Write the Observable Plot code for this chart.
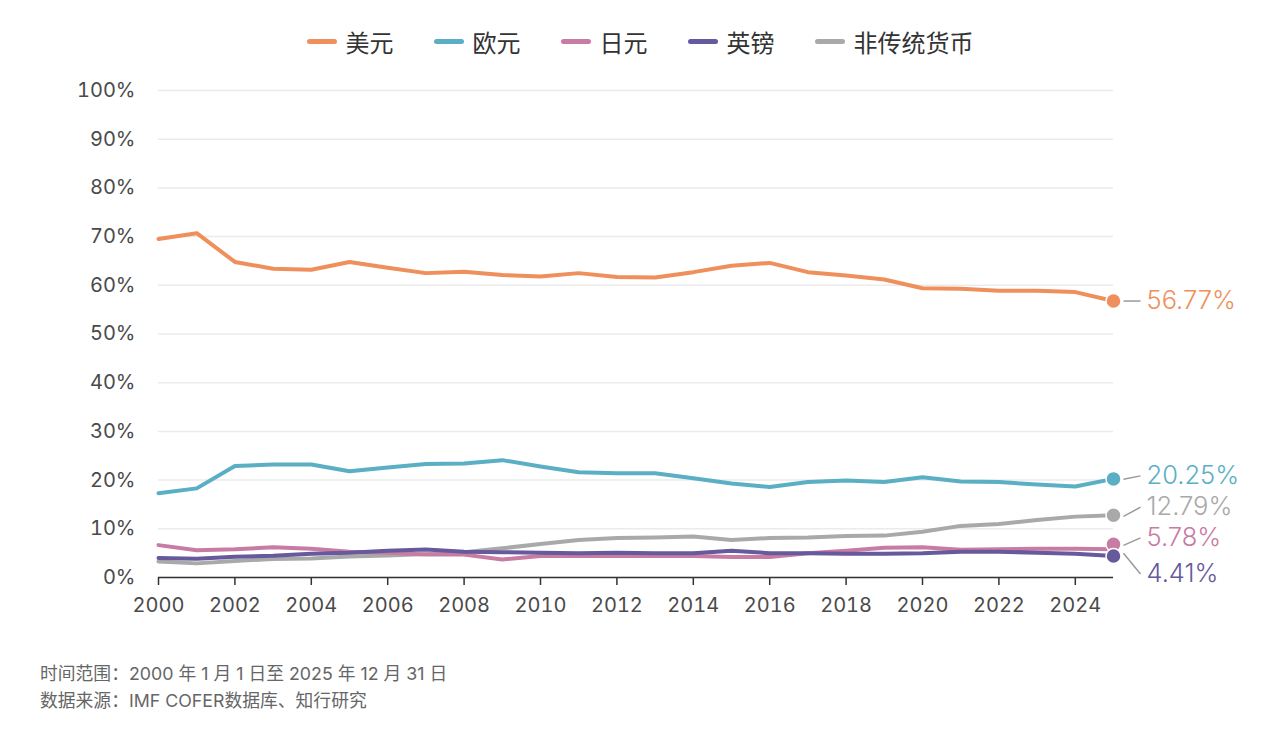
<!DOCTYPE html>
<html><head><meta charset="utf-8">
<script src="https://cdn.jsdelivr.net/npm/d3@7"></script>
<script src="https://cdn.jsdelivr.net/npm/@observablehq/plot@0.6"></script>
<style>
  html,body{margin:0;padding:0;background:#fff;}
  body{width:1280px;height:730px;overflow:hidden;font-family:Inter,"Noto Sans CJK SC",sans-serif;}
  #legend{height:70px;display:flex;justify-content:center;align-items:center;gap:40px;padding-top:12px;box-sizing:border-box;font-family:"Noto Sans CJK SC",sans-serif;font-size:24px;color:#333;}
  .item{display:flex;align-items:center;gap:9px;}
  .sw{width:30px;height:5px;border-radius:3px;}
  #chart svg{display:block;}
  #chart svg text{font-family:Inter,"Noto Sans CJK SC",sans-serif;}
  #caption{padding-left:40px;margin-top:33px;font-size:17.8px;color:#666;line-height:27px;font-family:Inter,"Noto Sans CJK SC",sans-serif;}
</style></head>
<body>
<div id="legend"></div>
<div id="chart"></div>
<div id="caption"><div>时间范围：2000 年 1 月 1 日至 2025 年 12 月 31 日</div><div>数据来源：IMF COFER数据库、知行研究</div></div>
<script>
const years = [2000,2001,2002,2003,2004,2005,2006,2007,2008,2009,2010,2011,2012,2013,2014,2015,2016,2017,2018,2019,2020,2021,2022,2023,2024,2025];
const seriesNames = ["美元","欧元","日元","英镑","非传统货币"];
const seriesColors = ["#ef8f5b","#5aafc4","#c87ba3","#66599c","#a9a9a9"];
const usd = [69.5,70.7,64.8,63.4,63.2,64.8,63.6,62.5,62.8,62.1,61.8,62.5,61.7,61.6,62.7,64.0,64.6,62.7,62.0,61.2,59.4,59.3,58.9,58.9,58.6,56.77];
const eur = [17.3,18.3,22.9,23.2,23.2,21.8,22.6,23.3,23.4,24.1,22.8,21.6,21.4,21.4,20.4,19.3,18.6,19.6,19.9,19.6,20.6,19.7,19.6,19.1,18.7,20.25];
const jpy = [6.65,5.6,5.8,6.2,5.9,5.3,5.1,4.7,4.7,3.7,4.4,4.4,4.4,4.4,4.4,4.2,4.2,5.0,5.5,6.1,6.2,5.7,5.8,5.9,5.9,5.78];
const gbp = [4.0,3.85,4.25,4.45,4.9,5.1,5.5,5.75,5.3,5.2,5.1,5.0,5.1,5.0,5.0,5.5,5.0,5.0,4.9,4.9,5.0,5.3,5.3,5.1,4.9,4.41];
const other = [3.3,2.9,3.4,3.8,3.9,4.3,4.5,4.8,5.2,6.0,6.9,7.7,8.1,8.2,8.4,7.7,8.1,8.2,8.5,8.6,9.4,10.6,11.0,11.8,12.5,12.79];
const xTicks = [2000,2002,2004,2006,2008,2010,2012,2014,2016,2018,2020,2022,2024];
const yTicks = [0,10,20,30,40,50,60,70,80,90,100];

const valuesList = [usd, eur, jpy, gbp, other];
const legend = document.getElementById("legend");
seriesNames.forEach((n,i)=>{
  const it = document.createElement("div"); it.className="item";
  it.innerHTML = `<div class="sw" style="background:${seriesColors[i]}"></div><span>${n}</span>`;
  legend.appendChild(it);
});

const long = [];
seriesNames.forEach((n,i)=>years.forEach((y,j)=>long.push({name:n,year:y,value:valuesList[i][j],color:seriesColors[i]})));

const W=1280, H=557, mL=158, mR=167, mT=20, mB=50;
const firstYear = years[0], lastYear = years[years.length-1];
const kx = (W-mL-mR)/(lastYear-firstYear);
const ky = (H-mT-mB)/100;
const labelShift = {"美元":0,"欧元":-3,"日元":-11.5,"英镑":18,"非传统货币":-8};
const dotShift = {"美元":0,"欧元":0,"日元":-5,"英镑":0,"非传统货币":0};
const ends = seriesNames.map((n,i)=>{
  const v = valuesList[i][valuesList[i].length-1];
  const dv = v - dotShift[n]/ky;
  const lv = v - labelShift[n]/ky;
  return {name:n, color:seriesColors[i], v, dv, lv, text: v.toFixed(2)+"%"};
});
const drawOrder = ["非传统货币","日元","英镑","欧元","美元"];

const plot = Plot.plot({
  width: W, height: H,
  marginLeft: mL, marginRight: mR, marginTop: mT, marginBottom: mB,
  style: {fontFamily: "Inter, sans-serif", fontSize: "20px", color: "#4a4a4a", background: "#fff", overflow: "visible"},
  x: {domain: [firstYear, lastYear]},
  y: {domain: [0, 100]},
  color: {type: "identity"},
  marks: [
    Plot.gridY(yTicks, {stroke: "#ebebeb", strokeOpacity: 1, strokeWidth: 1.5}),
    Plot.axisY(yTicks, {tickSize: 0, tickPadding: 23, tickFormat: d => d + "%", label: null, fontSize: 20}),
    Plot.axisX(xTicks, {tickSize: 8, tickPadding: 12, tickFormat: d => String(d), label: null, stroke: "#333", strokeWidth: 1.5, fontSize: 20}),
    Plot.ruleY([0], {stroke: "#333", strokeWidth: 1.5}),
    ...drawOrder.map(n => Plot.line(long.filter(d => d.name === n), {x: "year", y: "value", stroke: "color", strokeWidth: 4, strokeLinejoin: "round", strokeLinecap: "round"})),
    Plot.link(ends, {x1: () => lastYear + 10/kx, y1: d => d.dv - (d.lv - d.dv)*0.15, x2: () => lastYear + 27/kx, y2: d => d.lv, stroke: "#9a9a9a", strokeWidth: 1.5}),
    Plot.dot(ends.filter(d=>d.name!=="英镑"), {x: () => lastYear, y: "dv", fill: "color", r: 7.5, stroke: "#fff", strokeWidth: 1.5}),
    Plot.dot(ends.filter(d=>d.name==="英镑"), {x: () => lastYear, y: "dv", fill: "color", r: 7.5, stroke: "#fff", strokeWidth: 1.5}),
    Plot.text(ends, {x: () => lastYear + 33/kx, y: "lv", text: "text", fill: "color", textAnchor: "start", fontSize: 25.5, fontWeight: 300, lineAnchor: "middle"})
  ]
});
document.getElementById("chart").appendChild(plot);
</script>
</body></html>
